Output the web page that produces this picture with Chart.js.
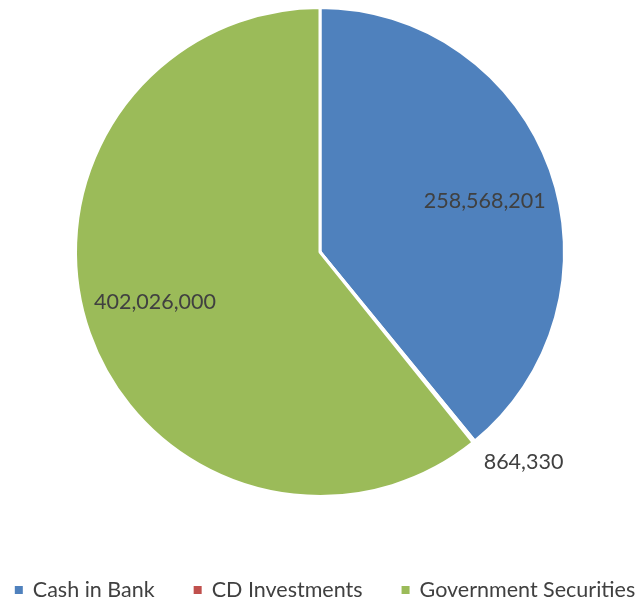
<!DOCTYPE html>
<html>
<head>
<meta charset="utf-8">
<script src="https://cdn.jsdelivr.net/npm/chart.js@4"></script>
<style>
html,body{margin:0;padding:0;background:#fff;}
#wrap{width:640px;height:600px;position:relative;}
</style>
</head>
<body>
<div id="wrap"><canvas id="c" width="640" height="600"></canvas></div>
<script>
const categories = ["Cash in Bank", "CD Investments", "Government Securities"];
const values = [258568201, 864330, 402026000];
const valueLabels = ["258,568,201", "864,330", "402,026,000"];
const colors = ["#4F81BD", "#C0504D", "#9BBB59"];

const FONT = "Lato, 'Open Sans', sans-serif";
const FONT_SIZE = 21.5;

const labelPlugin = {
  id: 'sliceLabels',
  afterDatasetsDraw(chart) {
    const ctx = chart.ctx;
    const meta = chart.getDatasetMeta(0);
    const total = values.reduce((a,b)=>a+b,0);
    ctx.save();
    ctx.font = FONT_SIZE + "px " + FONT;
    ctx.fillStyle = "#404040";
    ctx.textBaseline = "middle";
    meta.data.forEach((arc, i) => {
      const p = arc.getProps(['startAngle','endAngle','outerRadius','x','y'], true);
      const mid = (p.startAngle + p.endAngle) / 2;
      if (values[i] / total > 0.05) {
        const a = mid + 0.045;
        const r = p.outerRadius * 0.705;
        ctx.textAlign = "center";
        ctx.fillText(valueLabels[i], p.x + Math.cos(a)*r, p.y + Math.sin(a)*r);
      } else {
        const a = mid + 0.02;
        const r = p.outerRadius + 22;
        ctx.textAlign = "left";
        ctx.fillText(valueLabels[i], p.x + Math.cos(a)*r, p.y + Math.sin(a)*r);
      }
    });
    ctx.restore();
  }
};

const legendPlugin = {
  id: 'bottomLegend',
  afterDraw(chart) {
    const ctx = chart.ctx;
    const labels = chart.data.labels;
    const bg = chart.data.datasets[0].backgroundColor;
    const box = 8, gapText = 10, gapItem = 39;
    ctx.save();
    ctx.font = FONT_SIZE + "px " + FONT;
    ctx.textBaseline = "middle";
    ctx.textAlign = "left";
    const widths = labels.map(t => ctx.measureText(t).width);
    let total = 0;
    widths.forEach((w, i) => { total += box + gapText + w + (i < labels.length - 1 ? gapItem : 0); });
    let x = 325 - total / 2;
    const y = 590;
    labels.forEach((t, i) => {
      ctx.fillStyle = bg[i];
      ctx.fillRect(x, y - box / 2, box, box);
      ctx.fillStyle = "#404040";
      ctx.fillText(t, x + box + gapText, y);
      x += box + gapText + widths[i] + gapItem;
    });
    ctx.restore();
  }
};

new Chart(document.getElementById('c'), {
  type: 'pie',
  data: {
    labels: categories,
    datasets: [{
      data: values,
      backgroundColor: colors,
      borderColor: "#ffffff",
      borderWidth: 3
    }]
  },
  options: {
    responsive: false,
    animation: false,
    layout: { padding: { top: 6, bottom: 102, left: 0, right: 0 } },
    plugins: {
      tooltip: { enabled: false },
      legend: { display: false }
    }
  },
  plugins: [labelPlugin, legendPlugin]
});
</script>
</body>
</html>
